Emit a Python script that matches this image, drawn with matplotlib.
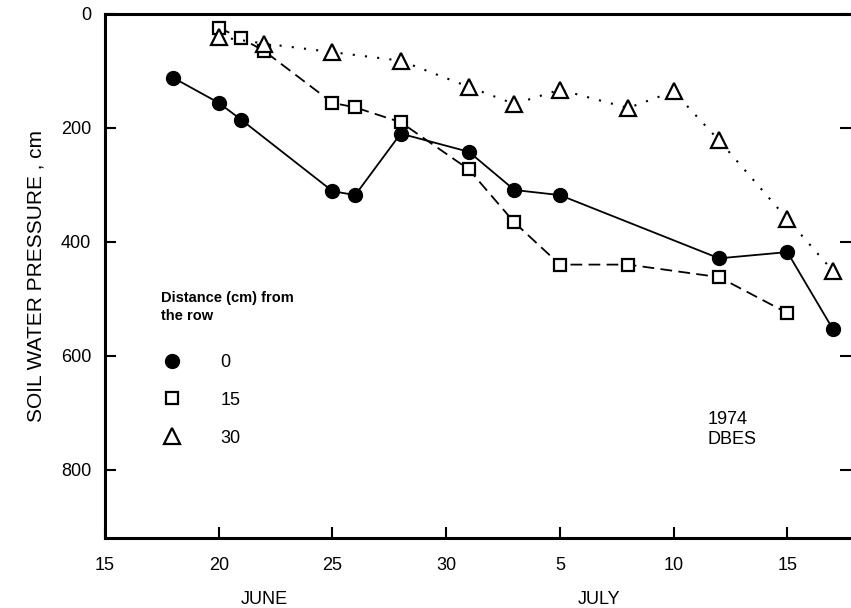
import matplotlib
matplotlib.use("Agg")
import matplotlib.pyplot as plt
import matplotlib.transforms as mtransforms
from matplotlib.lines import Line2D

plt.rcParams['font.family'] = ['Liberation Sans', 'DejaVu Sans']

# days counted from 1 June (July d -> 30 + d)
day_0cm = [18, 20, 21, 25, 26, 28, 31, 33, 35, 42, 45, 47]
psi_0cm = [112, 156, 186, 311, 318, 210, 242, 309, 318, 429, 418, 553]

day_15cm = [20, 21, 22, 25, 26, 28, 31, 33, 35, 38, 42, 45]
psi_15cm = [24, 43, 65, 156, 164, 190, 273, 366, 440, 440, 462, 525]

day_30cm = [20, 22, 25, 28, 31, 33, 35, 38, 40, 42, 45, 47]
psi_30cm = [40, 52, 67, 82, 128, 158, 133, 165, 136, 222, 360, 451]

xticks = [15, 20, 25, 30, 35, 40, 45]
xtick_labels = ['15', '20', '25', '30', '5', '10', '15']
yticks = [0, 200, 400, 600, 800]
months = [('JUNE', 22.0), ('JULY', 36.7)]

fig = plt.figure(figsize=(8.51, 6.08), dpi=100)
ax = fig.add_axes([0.1234, 0.1151, 0.8766, 0.8619])

ax.plot(day_0cm, psi_0cm, color='black', lw=1.3, ls='-',
        marker='o', ms=10, mfc='black', mec='black')
ax.plot(day_15cm, psi_15cm, color='black', lw=1.3, ls=(0, (6.5, 3.5)),
        marker='s', ms=8.5, mfc='white', mec='black', mew=1.6)
ax.plot(day_30cm, psi_30cm, color='black', lw=1.5, ls=(0, (1, 4.9)),
        marker='^', ms=11, mfc='white', mec='black', mew=1.6)

ax.set_xlim(15, 47.8)
ax.set_ylim(920, 0)
ax.set_xticks(xticks)
ax.set_xticklabels(xtick_labels)
ax.set_yticks(yticks)
ax.tick_params(direction='in', length=8, width=1.5, labelsize=13, pad=10,
               right=True, top=False)
ax.tick_params(axis='x', pad=14)

for side in ['left', 'bottom', 'top']:
    ax.spines[side].set_linewidth(2.2)
ax.spines['right'].set_visible(False)

ax.set_ylabel('SOIL WATER PRESSURE , cm', fontsize=15, labelpad=11)

trans = mtransforms.blended_transform_factory(ax.transData, ax.transAxes)
for name, xpos in months:
    ax.text(xpos, -0.118, name, transform=trans, ha='center', va='center',
            fontsize=13)

ax.text(41.5, 730, '1974\nDBES', ha='left', va='center', fontsize=13,
        linespacing=1.25)

handles = [
    Line2D([], [], ls='none', marker='o', ms=10, mfc='black', mec='black'),
    Line2D([], [], ls='none', marker='s', ms=8.5, mfc='white', mec='black', mew=1.6),
    Line2D([], [], ls='none', marker='^', ms=11, mfc='white', mec='black', mew=1.6),
]
leg = ax.legend(handles, ['0', '15', '30'], loc='upper left',
                bbox_to_anchor=(0.065, 0.485), frameon=False, fontsize=13,
                title='Distance (cm) from\nthe row', alignment='left',
                labelspacing=1.15, handlelength=1.3, handletextpad=2.0,
                borderaxespad=0)
leg.get_title().set_fontsize(10.5)
leg.get_title().set_fontweight('bold')
leg.get_title().set_linespacing(1.4)
# extra room between the title and the entries
leg._legend_box.sep = 22

fig.savefig('out.png', dpi=100)
